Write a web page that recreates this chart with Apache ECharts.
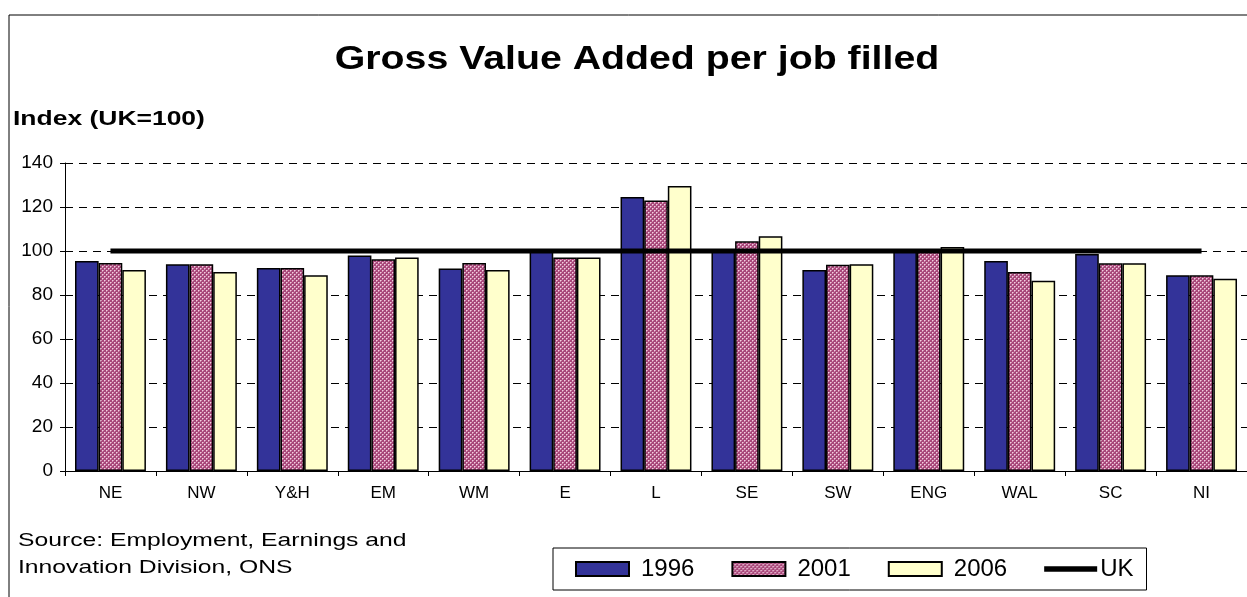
<!DOCTYPE html>
<html>
<head>
<meta charset="utf-8">
<script src="https://cdn.jsdelivr.net/npm/echarts@6/dist/echarts.min.js"></script>
<style>
  html, body { margin: 0; padding: 0; background: #fff; }
  #main { width: 1247px; height: 597px; }
</style>
</head>
<body>
<div id="main"></div>
<script>
// regions on the x axis
var regions = ['NE', 'NW', 'Y&H', 'EM', 'WM', 'E', 'L', 'SE', 'SW', 'ENG', 'WAL', 'SC', 'NI'];
// GVA per job filled, index UK=100
var gva1996 = [95.5, 94, 92.3, 97.9, 92.1, 100, 124.5, 100.5, 91.4, 100, 95.5, 98.6, 89];
var gva2001 = [94.5, 94, 92.3, 96.2, 94.5, 97, 122.9, 104.4, 93.8, 100.3, 90.5, 94.4, 89];
var gva2006 = [91.4, 90.5, 89, 97.1, 91.4, 97, 129.5, 106.7, 94, 101.8, 86.5, 94.4, 87.4];
var ukLine = [100, 100, 100, 100, 100, 100, 100, 100, 100, 100, 100, 100, 100];

// checker pattern for the 2001 bars
function makePattern() {
  var c = document.createElement('canvas');
  c.width = 4; c.height = 4;
  var ctx = c.getContext('2d');
  ctx.fillStyle = '#a8487a';
  ctx.fillRect(0, 0, 4, 4);
  ctx.fillStyle = '#f2cfe0';
  ctx.fillRect(0, 0, 1, 1);
  ctx.fillRect(2, 2, 1, 1);
  ctx.fillStyle = '#d38fb2';
  ctx.fillRect(1, 0, 1, 1);
  ctx.fillRect(0, 1, 1, 1);
  ctx.fillRect(3, 2, 1, 1);
  ctx.fillRect(2, 3, 1, 1);
  return c;
}
var pinkPattern = { image: makePattern(), repeat: 'repeat' };

var font = 'Liberation Sans, Arial, sans-serif';

var option = {
  backgroundColor: '#FFFFFF',
  animation: false,
  legend: {
    left: 553,
    top: 548,
    padding: [9, 13, 9, 22],
    itemGap: 37,
    itemWidth: 53,
    itemHeight: 14,
    borderColor: '#000',
    borderWidth: 1,
    textStyle: { fontFamily: font, fontSize: 24, color: '#000', padding: [0, 0, 0, 7] },
    data: [
      { name: '1996', icon: 'rect' },
      { name: '2001', icon: 'rect' },
      { name: '2006', icon: 'rect' },
      { name: 'UK', icon: 'path://M0,0 L100,0 L100,10 L0,10 Z', textStyle: { padding: [0, 0, 0, -2] } }
    ]
  },
  grid: {
    left: 65,
    top: 163,
    right: 0,
    bottom: 126,
    containLabel: false
  },
  xAxis: {
    type: 'category',
    data: regions,
    axisLine: { lineStyle: { color: '#000', width: 1 } },
    axisTick: { show: true, length: 5, lineStyle: { color: '#000' } },
    axisLabel: { fontFamily: font, fontSize: 17, color: '#000', margin: 14 }
  },
  yAxis: {
    type: 'value',
    min: 0,
    max: 140,
    interval: 20,
    axisLine: { show: true, lineStyle: { color: '#000', width: 1 } },
    axisTick: { show: true, length: 5, lineStyle: { color: '#000' } },
    axisLabel: { fontFamily: font, fontSize: 19, color: '#000', margin: 12 },
    splitLine: { show: true, lineStyle: { color: '#000', type: [8, 6], width: 1 } }
  },
  graphic: [{
    type: 'rect',
    shape: { x: 9, y: 15, width: 1300, height: 700 },
    style: { fill: 'none', stroke: '#000', lineWidth: 1 },
    silent: true,
    z: -1
  }, {
    type: 'text',
    x: 637,
    y: 60,
    scaleX: 1.19,
    style: {
      text: 'Gross Value Added per job filled',
      font: 'bold 33px ' + font,
      fill: '#000',
      align: 'center',
      verticalAlign: 'middle'
    }
  }, {
    type: 'text',
    x: 13,
    y: 119,
    scaleX: 1.26,
    style: {
      text: 'Index (UK=100)',
      font: 'bold 21px ' + font,
      fill: '#000',
      align: 'left',
      verticalAlign: 'middle'
    }
  }, {
    type: 'text',
    x: 18,
    y: 541,
    scaleX: 1.3,
    style: {
      text: 'Source: Employment, Earnings and',
      font: '19px ' + font,
      fill: '#000',
      align: 'left',
      verticalAlign: 'middle'
    }
  }, {
    type: 'text',
    x: 18,
    y: 568,
    scaleX: 1.3,
    style: {
      text: 'Innovation Division, ONS',
      font: '19px ' + font,
      fill: '#000',
      align: 'left',
      verticalAlign: 'middle'
    }
  }],
  series: [{
    name: '1996',
    type: 'bar',
    data: gva1996,
    barGap: '0%',
    barCategoryGap: '22%',
    itemStyle: { color: '#333399', borderColor: '#000', borderWidth: 1.5 }
  }, {
    name: '2001',
    type: 'bar',
    data: gva2001,
    itemStyle: { color: pinkPattern, borderColor: '#000', borderWidth: 1.5 }
  }, {
    name: '2006',
    type: 'bar',
    data: gva2006,
    itemStyle: { color: '#FFFFCC', borderColor: '#000', borderWidth: 1.5 }
  }, {
    name: 'UK',
    type: 'line',
    data: ukLine,
    symbol: 'none',
    z: 5,
    lineStyle: { color: '#000', width: 5 },
    itemStyle: { color: '#000' }
  }]
};

var chart = echarts.init(document.getElementById('main'));
chart.setOption(option);
</script>
</body>
</html>
